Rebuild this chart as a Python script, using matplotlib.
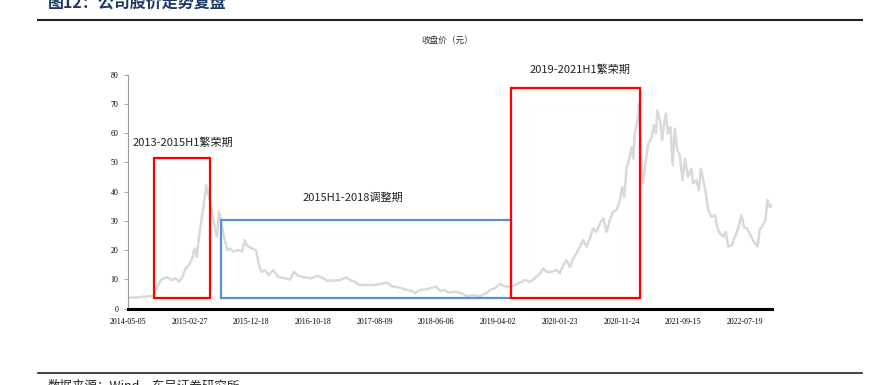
import matplotlib
matplotlib.use('Agg')
import matplotlib.pyplot as plt
from matplotlib.patches import Rectangle

plt.rcParams['font.family'] = ['Noto Sans CJK SC', 'DejaVu Sans']

# trading-day index (from 2014-05-05) and close price
DAYS = [0, 16, 39, 65, 84, 95, 106, 117, 127, 144, 155, 165, 176, 187, 198, 208, 216, 223,
        230, 238, 246, 254, 259, 266, 273, 281, 288, 295, 302, 311, 322, 331, 341, 358,
        369, 379, 385, 401, 415, 426, 433, 444, 455, 471, 487, 509, 525, 538, 552, 574,
        595, 612, 628, 644, 665, 687, 707, 720, 736, 750, 768, 790, 811, 839, 855, 876,
        898, 920, 930, 947, 968, 990, 1001, 1011, 1028, 1038, 1060, 1082, 1098, 1119,
        1141, 1163, 1173, 1190, 1206, 1222, 1238, 1254, 1271, 1287, 1303, 1319, 1336,
        1346, 1357, 1373, 1390, 1400, 1411, 1422, 1433, 1443, 1454, 1465, 1476, 1487,
        1497, 1508, 1519, 1530, 1541, 1552, 1562, 1573, 1584, 1595, 1602, 1609, 1617,
        1624, 1633, 1638, 1643, 1652, 1657, 1661, 1665, 1670, 1676, 1687, 1698, 1705,
        1712, 1716, 1725, 1732, 1738, 1744, 1751, 1759, 1766, 1773, 1781, 1789, 1798,
        1806, 1816, 1827, 1832, 1843, 1851, 1857, 1865, 1874, 1881, 1892, 1903, 1910,
        1919, 1930, 1938, 1946, 1957, 1968, 1978, 1989, 1997, 2007, 2018, 2029, 2041,
        2048, 2059, 2067, 2073, 2081, 2088]
CLOSE = [3.7, 3.8, 4.0, 4.2, 4.3, 7.5, 9.8, 10.5, 10.7, 9.8, 10.4, 9.2, 10.7, 13.8, 14.9,
         17.2, 20.6, 17.7, 24.6, 30.3, 36.0, 42.2, 39.4, 37.1, 32.6, 28.0, 24.6, 33.1, 30.3,
         24.6, 20.0, 20.6, 19.5, 20.0, 19.5, 23.4, 21.7, 20.6, 20.0, 14.3, 12.6, 13.2, 11.5,
         13.2, 10.9, 10.4, 10.0, 12.6, 11.2, 10.7, 10.4, 11.2, 10.7, 9.6, 9.6, 9.8, 10.7,
         9.8, 9.2, 8.1, 8.1, 8.1, 8.3, 8.9, 7.7, 7.3, 6.6, 6.1, 5.3, 6.4, 6.6, 7.3, 7.5,
         6.1, 6.4, 5.5, 5.8, 5.3, 4.3, 4.6, 4.3, 5.3, 6.4, 7.0, 8.4, 7.7, 7.5, 8.1, 8.9,
         9.8, 9.2, 10.4, 12.1, 13.8, 12.6, 12.6, 13.2, 12.1, 14.9, 16.6, 14.3, 17.2, 18.9,
         21.2, 23.4, 21.2, 24.0, 27.4, 26.3, 29.1, 30.9, 26.3, 30.3, 33.1, 33.7, 37.1, 41.6,
         38.2, 48.5, 50.8, 55.3, 51.3, 59.9, 64.4, 70.0, 58.7, 48.5, 42.8, 48.5, 56.4, 58.7,
         62.7, 59.9, 67.8, 64.4, 57.6, 63.3, 66.7, 59.9, 62.1, 49.0, 61.6, 54.2, 52.5, 43.9,
         51.3, 45.1, 47.9, 42.8, 43.9, 40.5, 47.9, 43.9, 39.4, 33.7, 31.4, 32.0, 28.0, 25.7,
         24.6, 26.3, 21.2, 21.7, 24.6, 27.4, 32.0, 28.0, 27.4, 25.2, 22.9, 21.2, 26.9, 28.6,
         30.3, 37.1, 34.8, 35.4]

TICK_DAYS = [0, 200, 400, 600, 800, 1000, 1200, 1400, 1600, 1800, 2000]
TICK_LABELS = ['2014-05-05', '2015-02-27', '2015-12-18', '2016-10-18', '2017-08-09',
               '2018-06-06', '2019-04-02', '2020-01-23', '2020-11-24', '2021-09-15',
               '2022-07-19']

# phases: (start day, end day, low, high, label, colour)
PHASES = [
    (84, 266, 3.75, 51.4, '2013-2015H1繁荣期', '#ff0000'),
    (300, 1241, 3.75, 30.2, '2015H1-2018调整期', '#5b8fd6'),
    (1241, 1660, 3.75, 75.3, '2019-2021H1繁荣期', '#ff0000'),
]
LABEL_POS = [(16, 56.7), (567, 38.1), (1303, 81.8)]

fig = plt.figure(figsize=(8.76, 3.85), dpi=100)
ax = fig.add_axes([128 / 876, 1 - 308.7 / 385, 644 / 876, (308.7 - 74.7) / 385])

ax.plot(DAYS, CLOSE, color='#d9d9d9', lw=1.8, zorder=2)

for (x0, x1, y0, y1, label, color), (tx, ty) in zip(PHASES, LABEL_POS):
    ax.add_patch(Rectangle((x0, y0), x1 - x0, y1 - y0, fill=False, ec=color, lw=1.6, zorder=3))
    ax.text(tx, ty, label, fontsize=8, color='#222222', va='center', ha='left', clip_on=False)

ax.set_xlim(0, 2088)
ax.set_ylim(0, 80)
ax.set_yticks(range(0, 81, 10))
ax.set_xticks(TICK_DAYS)
ax.set_xticklabels(TICK_LABELS)
for lab in ax.get_xticklabels() + ax.get_yticklabels():
    lab.set_family('Liberation Serif')
    lab.set_fontsize(5.7)
ax.tick_params(axis='x', length=0, pad=7)
ax.tick_params(axis='y', length=3, width=0.6, color='#999999', pad=4)
for s in ['top', 'right']:
    ax.spines[s].set_visible(False)
ax.spines['left'].set_color('#999999')
ax.spines['left'].set_linewidth(0.8)
ax.spines['bottom'].set_color('black')
ax.spines['bottom'].set_linewidth(2.2)

fig.text(447 / 876, 1 - 40 / 385, '收盘价（元）', fontsize=6.2, ha='center', va='center', color='#333333')

# report header / footer
fig.text(48 / 876, 1 - 3 / 385, '图12：公司股价走势复盘', fontsize=11.5, fontweight='bold',
         color='#1f3864', ha='left', va='center')
fig.add_artist(plt.Line2D([38 / 876, 862 / 876], [1 - 20 / 385, 1 - 20 / 385],
                          color='#222222', lw=1.5))
fig.add_artist(plt.Line2D([38 / 876, 862 / 876], [1 - 373 / 385, 1 - 373 / 385],
                          color='#222222', lw=1.2))
fig.text(48 / 876, 1 - 380 / 385, '数据来源：Wind，东吴证券研究所', fontsize=9,
         color='#222222', ha='left', va='top')

fig.savefig('out.png', dpi=100)
